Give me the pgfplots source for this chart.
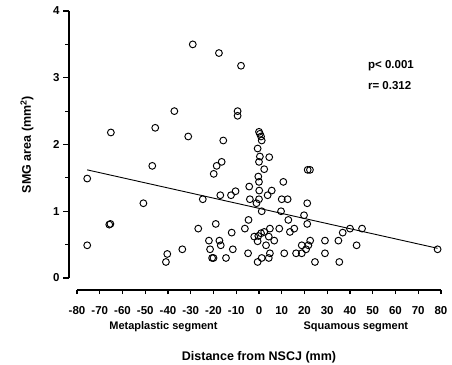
\documentclass[border=0pt]{standalone}
\usepackage{fontspec}
\setmainfont{Liberation Sans}
\usepackage{pgfplots}
\pgfplotsset{compat=1.18}
\begin{document}
\begin{tikzpicture}[x=1pt,y=1pt]
\path[use as bounding box] (0,0) rectangle (452,364);
\begin{axis}[at={(69pt,86pt)}, anchor=south west, scale only axis,
  width=372pt, height=267pt, xmin=-83.5, xmax=80, ymin=0, ymax=4,
  axis x line=none, axis y line=left,
  y axis line style={-, line width=1.6pt},
  ytick={0,1,2,3,4}, yticklabels={0,1,2,3,4},
  minor ytick={0.5,1.5,2.5,3.5},
  tick align=outside, major tick length=6pt, minor tick length=4pt,
  every tick/.append style={black, line width=1.2pt},
  every minor tick/.append style={black, line width=1.2pt},
  yticklabel style={font=\fontsize{11.5}{13}\selectfont\bfseries},
  clip=false,
  ylabel={SMG area (mm\textsuperscript{2})},
  ylabel style={at={(axis description cs:-0.113,0.5)}, anchor=center, font=\fontsize{12.5}{15}\selectfont\bfseries},
]
\addplot[only marks, mark=o, mark size=3.4pt, black, mark options={line width=0.95pt}] coordinates {
(-75.5,1.49) (-75.5,0.49) (-65.8,0.80) (-65.3,0.81) (-65.1,2.18) (-50.8,1.12)
(-46.9,1.68) (-45.6,2.25) (-40.3,0.36) (-40.9,0.24) (-37.2,2.50) (-33.7,0.43)
(-31.1,2.12) (-29.1,3.50) (-26.7,0.74) (-24.7,1.18) (-22.0,0.56) (-21.5,0.43)
(-20.6,0.30) (-20.0,0.30) (-19.0,0.81) (-19.9,1.56) (-18.6,1.68) (-17.6,3.37)
(-17.4,0.56) (-16.8,0.49) (-16.4,1.74) (-17.0,1.24) (-15.7,2.06) (-14.5,0.30)
(-12.0,0.68) (-11.5,0.43) (-12.3,1.24) (-10.3,1.30) (-9.4,2.50) (-9.4,2.43)
(-7.9,3.18) (-6.2,0.74) (-4.6,0.87) (-4.3,1.37) (-4.0,1.18) (-4.8,0.37)
(0.0,2.19) (0.4,2.16) (0.9,2.12) (1.2,2.06) (-0.6,1.94) (0.4,1.82) (4.5,1.81)
(0.0,1.74) (2.3,1.63) (-0.3,1.52) (0.0,1.44) (0.1,1.31) (5.6,1.31) (3.8,1.24)
(0.0,1.18) (-1.1,1.12) (1.2,1.00) (4.8,0.74) (-2.1,0.62) (-0.3,0.63) (0.9,0.67)
(2.3,0.69) (4.3,0.62) (6.7,0.56) (-0.6,0.55) (3.1,0.49) (4.8,0.37) (4.3,0.30)
(1.2,0.30) (-0.6,0.24)
(8.9,0.74) (9.7,1.00) (10.0,1.18) (12.6,1.18) (10.7,1.44) (11.1,0.37) (12.9,0.87)
(13.6,0.69) (15.5,0.74) (16.3,0.37) (18.8,0.37) (18.8,0.49) (19.8,0.94) (20.7,0.43)
(21.7,0.49) (22.5,0.56) (21.2,0.81) (21.2,1.12) (21.4,1.62) (22.4,1.62) (24.6,0.24)
(29.0,0.56) (29.0,0.37) (34.9,0.56) (35.3,0.24) (36.8,0.68) (40.0,0.74) (45.3,0.74)
(42.9,0.49) (78.5,0.43)
};
\addplot[black, line width=0.9pt] coordinates {(-75.5,1.62) (78.5,0.445)};
\node[anchor=west, font=\fontsize{11.5}{14}\selectfont\bfseries] at (axis cs:46.4,3.18) {p< 0.001};
\node[anchor=west, font=\fontsize{11.5}{14}\selectfont\bfseries] at (axis cs:46.4,2.88) {r= 0.312};
\end{axis}
\begin{axis}[at={(77pt,74pt)}, anchor=south west, scale only axis,
  width=364pt, height=20pt, xmin=-80, xmax=80, ymin=0, ymax=1,
  axis y line=none, axis x line=bottom,
  x axis line style={-, line width=1.6pt},
  xtick={-80,-70,-60,-50,-40,-30,-20,-10,0,10,20,30,40,50,60,70,80},
  xticklabels={-80,-70,-60,-50,-40,-30,-20,-10,0,10,20,30,40,50,60,70,80},
  tick align=outside, major tick length=4pt,
  every tick/.append style={black, line width=1.2pt},
  xticklabel style={font=\fontsize{11.5}{13}\selectfont\bfseries, yshift=-9pt},
  clip=false,
]
\node[font=\fontsize{11}{13}\selectfont\bfseries] at (axis cs:-42,-1.85) {Metaplastic segment};
\node[font=\fontsize{11}{13}\selectfont\bfseries] at (axis cs:42.6,-1.85) {Squamous segment};
\node[font=\fontsize{12.5}{15}\selectfont\bfseries] at (axis cs:0,-3.35) {Distance from NSCJ (mm)};
\end{axis}
\end{tikzpicture}
\end{document}
